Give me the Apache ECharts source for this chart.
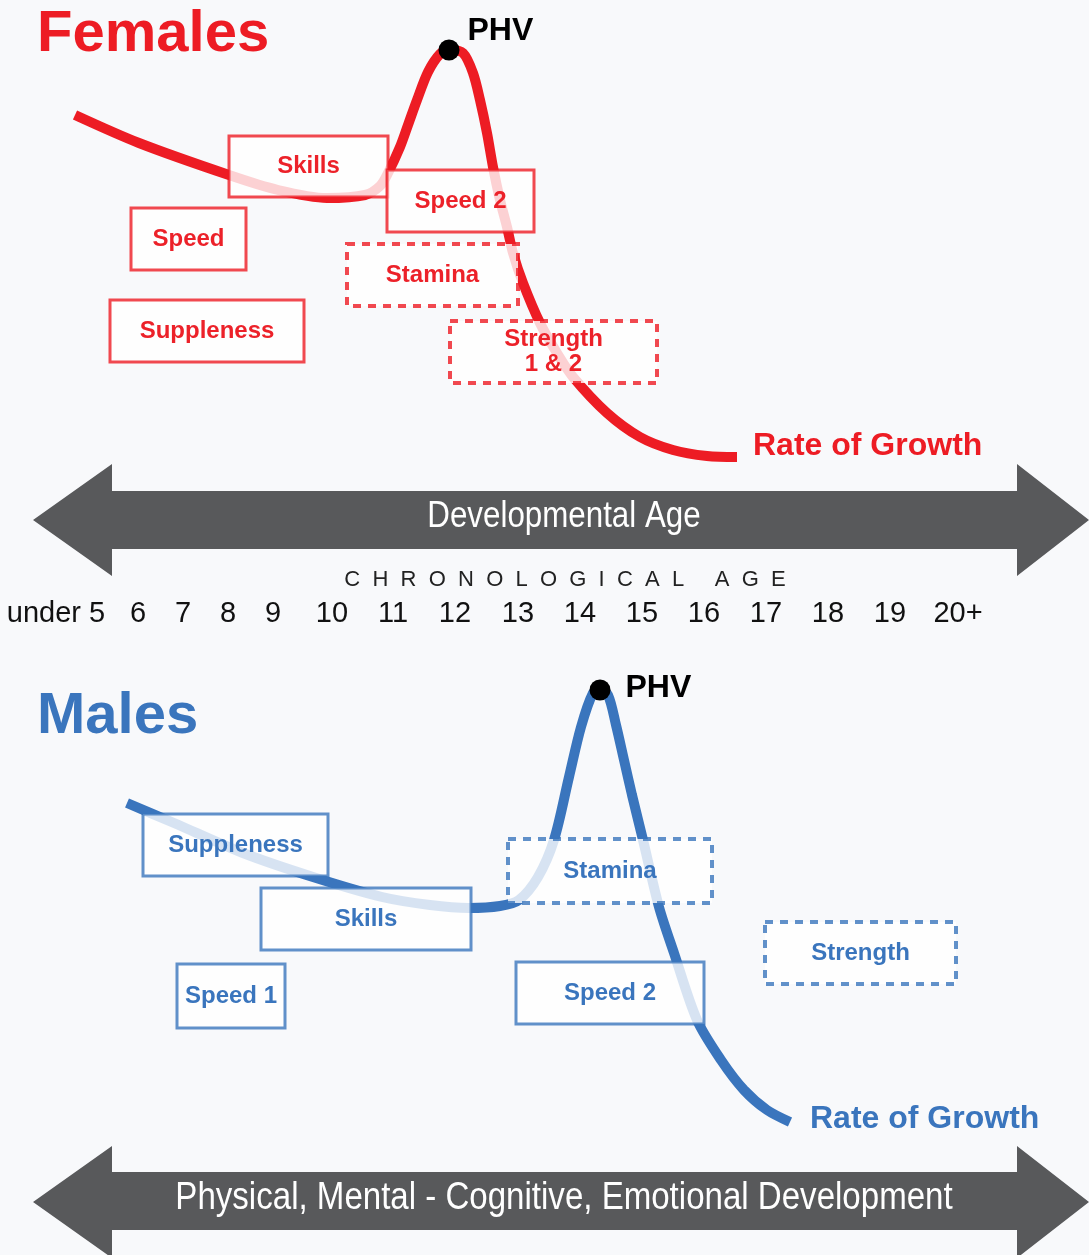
<!DOCTYPE html>
<html>
<head>
<meta charset="utf-8">
<script src="https://cdn.jsdelivr.net/npm/echarts@6/dist/echarts.min.js"></script>
<style>
html,body{margin:0;padding:0;background:#f8f9fb;}
#chart{width:1089px;height:1255px;}
</style>
</head>
<body>
<div id="chart"></div>
<script>
// ---- DATA (x = position on the developmental timeline, y = rate of growth) ----
const ageLabels = ['under 5','6','7','8','9','10','11','12','13','14','15','16','17','18','19','20+'];
const ageTicks  = [56,138,183,228,273,332,393,455,518,580,642,704,766,828,890,958];

const femaleGrowth = [
  [75,35.5],[139,32.7],[229,29.5],[278,28.0],[327,27.2],[365,27.5],[380,28.4],[388,29.7],
  [400,32.3],[408,34.5],[417,37.0],[428,39.8],[440,41.6],[449,42.0],[463,41.7],[473,39.7],
  [480,37.0],[487,33.7],[493,30.3],[500,27.0],[507,24.3],[513,21.7],[523,18.7],[540,14.7],
  [557,11.7],[573,9.3],[607,5.7],[640,3.3],[673,2.0],[707,1.4],[737,1.3]
];
const femalePHVPoint = [[449,42.0]];
const maleGrowth = [
  [127,33.7],[174,31.7],[243,28.7],[313,26.3],[382,24.3],[430,23.5],[469,23.2],[500,23.4],
  [519,24.0],[538,26.3],[554,30.0],[569,36.3],[581,41.3],[593,44.7],[600,45.0],[608,44.5],
  [616,41.5],[624,38.0],[632,34.5],[643,30.0],[659,23.3],[674,18.7],[697,12.0],[721,8.0],
  [744,5.0],[767,3.0],[790,1.8]
];
const malePHVPoint = [[600,45.0]];

// windows of trainability: [label, start, end, upper, lower]
const femaleWindows = [
  ['Skills',229,388,33.4,27.3],
  ['Speed',131,246,26.2,20.0],
  ['Suppleness',110,304,17.0,10.8],
  ['Speed 2',387,534,30.0,23.8],
  ['Stamina',347,518,22.6,16.4],
  ['Strength\n1 & 2',450,657,14.9,8.7]
];
const femaleDashed = ['Stamina','Strength\n1 & 2'];
const maleWindows = [
  ['Suppleness',143,328,32.6,26.4],
  ['Skills',261,471,25.2,19.0],
  ['Speed 1',177,285,17.6,11.2],
  ['Stamina',508,712,30.1,23.7],
  ['Speed 2',516,704,17.8,11.6],
  ['Strength',765,956,21.8,15.6]
];
const maleDashed = ['Stamina','Strength'];

// ---- STYLES ----
const RED = '#ed1c24', BLUE = '#3a75bd', GREY = '#58595b';
const SANS = '"Liberation Sans",Arial,sans-serif';

function windowSeries(wins, dashedList, idx, stroke, textColor) {
  return {
    type: 'custom', xAxisIndex: idx, yAxisIndex: idx, z: 5, silent: true,
    data: wins.map(w => [w[1], w[2], w[3], w[4]]),
    encode: { x: [0, 1], y: [2, 3] },
    renderItem: function (params, api) {
      const p0 = api.coord([api.value(0), api.value(2)]);
      const p1 = api.coord([api.value(1), api.value(3)]);
      const name = wins[params.dataIndex][0];
      const dashed = dashedList.indexOf(name) >= 0;
      return {
        type: 'rect',
        shape: { x: p0[0], y: p0[1], width: p1[0] - p0[0], height: p1[1] - p0[1] },
        style: {
          fill: 'rgba(255,255,255,0.8)',
          stroke: stroke,
          lineWidth: dashed ? 4 : 3,
          lineDash: dashed ? [8, 7] : null
        },
        textContent: {
          style: {
            text: name, fill: textColor, font: 'bold 24px ' + SANS,
            align: 'center', verticalAlign: 'middle', lineHeight: 25
          }
        },
        textConfig: { position: 'inside' }
      };
    }
  };
}

const chart = echarts.init(document.getElementById('chart'), null, { renderer: 'canvas' });
chart.setOption({
  animation: false,
  backgroundColor: '#f8f9fb',
  title: [
    { text: 'Females', left: 37, top: 6, padding: 0,
      textStyle: { color: RED, fontSize: 58, fontWeight: 'bold', fontFamily: SANS } },
    { text: 'Males', left: 37, top: 688, padding: 0,
      textStyle: { color: BLUE, fontSize: 58, fontWeight: 'bold', fontFamily: SANS } }
  ],
  grid: [
    { left: 0, right: 0, top: 0, height: 470 },
    { left: 0, right: 0, top: 640, height: 500 },
    { left: 0, right: 0, top: 613, height: 1 }
  ],
  xAxis: [
    { gridIndex: 0, type: 'value', min: 0, max: 1089, show: false },
    { gridIndex: 1, type: 'value', min: 0, max: 1089, show: false },
    { gridIndex: 2, type: 'value', min: 0, max: 1089, position: 'bottom',
      axisLine: { show: false }, axisTick: { show: false }, splitLine: { show: false },
      axisLabel: {
        customValues: ageTicks, margin: 0, verticalAlign: 'middle',
        color: '#111', fontSize: 29, fontFamily: SANS,
        formatter: v => ageLabels[ageTicks.indexOf(v)]
      } }
  ],
  yAxis: [
    { gridIndex: 0, type: 'value', min: 0, max: 47, show: false },
    { gridIndex: 1, type: 'value', min: 0, max: 50, show: false },
    { gridIndex: 2, type: 'value', min: 0, max: 1, show: false }
  ],
  graphic: [
    { type: 'polygon', z: 1, shape: { points: [[33,520],[112,464],[112,491],[1017,491],[1017,464],[1089,520],[1017,576],[1017,549],[112,549],[112,576]] },
      style: { fill: GREY } },
    { type: 'text', z: 2, x: 564, y: 517, scaleX: 0.87,
      style: { x: 0, y: 0, text: 'Developmental Age', fill: '#fff',
      font: '36px ' + SANS, align: 'center', verticalAlign: 'middle' } },
    { type: 'text', z: 2, x: 565, y: 580,
      style: { x: 0, y: 0, text: 'C  H  R  O  N  O  L  O  G  I  C  A  L     A  G  E', fill: '#222',
      font: '22px ' + SANS, align: 'center', verticalAlign: 'middle' } },
    { type: 'polygon', z: 1, shape: { points: [[33,1202],[112,1146],[112,1172],[1017,1172],[1017,1146],[1089,1202],[1017,1258],[1017,1230],[112,1230],[112,1258]] },
      style: { fill: GREY } },
    { type: 'text', z: 2, x: 564, y: 1199, scaleX: 0.87,
      style: { x: 0, y: 0, text: 'Physical, Mental - Cognitive, Emotional Development', fill: '#fff',
      font: '38px ' + SANS, align: 'center', verticalAlign: 'middle' } }
  ],
  series: [
    { type: 'line', xAxisIndex: 0, yAxisIndex: 0, data: femaleGrowth, smooth: 0.3, symbol: 'none', z: 2,
      lineStyle: { color: RED, width: 10 },
      endLabel: { show: true, formatter: 'Rate of Growth', color: RED, fontSize: 32, fontWeight: 'bold',
        fontFamily: SANS, offset: [8, -11] } },
    { type: 'line', xAxisIndex: 1, yAxisIndex: 1, data: maleGrowth, smooth: 0.3, symbol: 'none', z: 2,
      lineStyle: { color: BLUE, width: 10 },
      endLabel: { show: true, formatter: 'Rate of Growth', color: BLUE, fontSize: 32, fontWeight: 'bold',
        fontFamily: SANS, offset: [12, -3] } },
    windowSeries(femaleWindows, femaleDashed, 0, 'rgba(237,28,36,0.8)', '#ec2129'),
    windowSeries(maleWindows, maleDashed, 1, 'rgba(58,117,189,0.8)', BLUE),
    { type: 'scatter', xAxisIndex: 0, yAxisIndex: 0, data: femalePHVPoint, symbolSize: 21, z: 6,
      itemStyle: { color: '#000', opacity: 1 },
      label: { show: true, formatter: 'PHV', position: 'right', color: '#000', fontSize: 32,
        fontWeight: 'bold', fontFamily: SANS, offset: [3, -19] } },
    { type: 'scatter', xAxisIndex: 1, yAxisIndex: 1, data: malePHVPoint, symbolSize: 21, z: 6,
      itemStyle: { color: '#000', opacity: 1 },
      label: { show: true, formatter: 'PHV', position: 'right', color: '#000', fontSize: 32,
        fontWeight: 'bold', fontFamily: SANS, offset: [10, -2] } }
  ]
});
</script>
</body>
</html>
